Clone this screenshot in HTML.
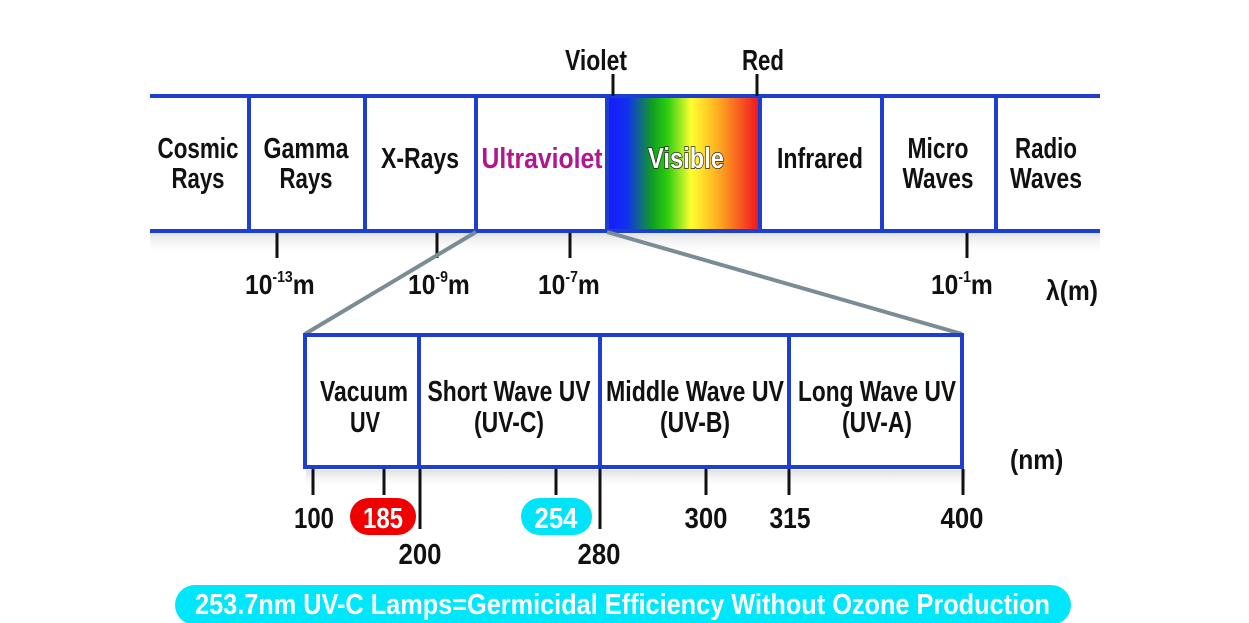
<!DOCTYPE html>
<html><head><meta charset="utf-8"><style>
html,body{margin:0;padding:0;background:#fff;width:1249px;height:623px;overflow:hidden}
svg text{font-family:"Liberation Sans Narrow","Liberation Sans",sans-serif;font-weight:bold;fill:#111}
</style></head><body>
<svg width="1249" height="623" viewBox="0 0 1249 623" xmlns="http://www.w3.org/2000/svg">
<defs>
<linearGradient id="vis" x1="0" x2="1" y1="0" y2="0">
<stop offset="0" stop-color="#1a1aff"/><stop offset="0.13" stop-color="#1030f0"/>
<stop offset="0.3" stop-color="#10a020"/><stop offset="0.4" stop-color="#30d010"/>
<stop offset="0.55" stop-color="#ffff30"/><stop offset="0.72" stop-color="#ffb020"/>
<stop offset="1" stop-color="#f01020"/></linearGradient>
<linearGradient id="sh" x1="0" x2="0" y1="0" y2="1"><stop offset="0" stop-color="#ccc"/><stop offset="1" stop-color="#fff" stop-opacity="0"/></linearGradient>
</defs>
<rect x="150" y="233" width="950" height="22" fill="url(#sh)" opacity="0.6"/>
<rect x="306" y="470" width="660" height="20" fill="url(#sh)" opacity="0.6"/>
<rect x="607" y="98" width="153" height="131" fill="url(#vis)"/>
<g stroke="#1c3fd0" stroke-width="4">
<line x1="150" y1="96" x2="1100" y2="96"/><line x1="150" y1="231" x2="1100" y2="231"/>
<line x1="249" y1="96" x2="249" y2="231"/><line x1="365" y1="96" x2="365" y2="231"/>
<line x1="476" y1="96" x2="476" y2="231"/><line x1="607" y1="96" x2="607" y2="231"/>
<line x1="760" y1="96" x2="760" y2="231"/><line x1="882" y1="96" x2="882" y2="231"/>
<line x1="996" y1="96" x2="996" y2="231"/>
</g>
<g stroke="#111" stroke-width="3">
<line x1="277" y1="233" x2="277" y2="258"/><line x1="437" y1="233" x2="437" y2="258"/>
<line x1="570" y1="233" x2="570" y2="258"/><line x1="967" y1="233" x2="967" y2="258"/>
<line x1="613" y1="74" x2="613" y2="96"/><line x1="757" y1="74" x2="757" y2="96"/>
</g>
<g stroke="#7a8c96" stroke-width="4">
<line x1="476" y1="232" x2="305" y2="334"/><line x1="607" y1="232" x2="962" y2="334"/>
</g>
<g font-size="29" text-anchor="middle">
<text x="596" y="70" textLength="62" lengthAdjust="spacingAndGlyphs">Violet</text>
<text x="763" y="70" textLength="42" lengthAdjust="spacingAndGlyphs">Red</text>
<text x="198" y="158" textLength="81" lengthAdjust="spacingAndGlyphs">Cosmic</text>
<text x="198" y="188" textLength="53" lengthAdjust="spacingAndGlyphs">Rays</text>
<text x="306" y="158" textLength="85" lengthAdjust="spacingAndGlyphs">Gamma</text>
<text x="306" y="188" textLength="53" lengthAdjust="spacingAndGlyphs">Rays</text>
<text x="420" y="168" textLength="78" lengthAdjust="spacingAndGlyphs">X-Rays</text>
<text x="542" y="168" textLength="121" lengthAdjust="spacingAndGlyphs" style="fill:#b0178f">Ultraviolet</text>
<text x="686" y="168" textLength="76" lengthAdjust="spacingAndGlyphs" style="fill:#fff;stroke:#222;stroke-width:1.5;paint-order:stroke">Visible</text>
<text x="820" y="168" textLength="86" lengthAdjust="spacingAndGlyphs">Infrared</text>
<text x="938" y="158" textLength="61" lengthAdjust="spacingAndGlyphs">Micro</text>
<text x="938" y="188" textLength="71" lengthAdjust="spacingAndGlyphs">Waves</text>
<text x="1046" y="158" textLength="62" lengthAdjust="spacingAndGlyphs">Radio</text>
<text x="1046" y="188" textLength="72" lengthAdjust="spacingAndGlyphs">Waves</text>
</g>
<g font-size="28">
<text x="245" y="294" transform="translate(245 0) scale(0.88 1) translate(-245 0)">10<tspan font-size="16" dy="-12">-13</tspan><tspan dy="12">m</tspan></text>
<text x="408" y="294" transform="translate(408 0) scale(0.88 1) translate(-408 0)">10<tspan font-size="16" dy="-12">-9</tspan><tspan dy="12">m</tspan></text>
<text x="538" y="294" transform="translate(538 0) scale(0.88 1) translate(-538 0)">10<tspan font-size="16" dy="-12">-7</tspan><tspan dy="12">m</tspan></text>
<text x="931" y="294" transform="translate(931 0) scale(0.88 1) translate(-931 0)">10<tspan font-size="16" dy="-12">-1</tspan><tspan dy="12">m</tspan></text>
<text x="1046" y="300" transform="translate(1046 0) scale(0.88 1) translate(-1046 0)">λ(m)</text>
<text x="1010" y="469" transform="translate(1010 0) scale(0.88 1) translate(-1010 0)">(nm)</text>
</g>
<g stroke="#1c3fd0" stroke-width="4" fill="none">
<rect x="305" y="335" width="657" height="132"/>
<line x1="419" y1="335" x2="419" y2="467"/><line x1="600" y1="335" x2="600" y2="467"/>
<line x1="789" y1="335" x2="789" y2="467"/>
</g>
<g stroke="#111" stroke-width="3">
<line x1="313" y1="469" x2="313" y2="495"/><line x1="384" y1="469" x2="384" y2="495"/>
<line x1="420" y1="469" x2="420" y2="529"/><line x1="556" y1="469" x2="556" y2="495"/>
<line x1="600" y1="469" x2="600" y2="529"/><line x1="706" y1="469" x2="706" y2="495"/>
<line x1="789" y1="469" x2="789" y2="495"/><line x1="963" y1="469" x2="963" y2="495"/>
</g>
<g font-size="29" text-anchor="middle">
<text x="364" y="401" textLength="88" lengthAdjust="spacingAndGlyphs">Vacuum</text>
<text x="365" y="432" textLength="30" lengthAdjust="spacingAndGlyphs">UV</text>
<text x="509" y="401" textLength="163" lengthAdjust="spacingAndGlyphs">Short Wave UV</text>
<text x="509" y="432" textLength="70" lengthAdjust="spacingAndGlyphs">(UV-C)</text>
<text x="695" y="401" textLength="178" lengthAdjust="spacingAndGlyphs">Middle Wave UV</text>
<text x="695" y="432" textLength="70" lengthAdjust="spacingAndGlyphs">(UV-B)</text>
<text x="877" y="401" textLength="158" lengthAdjust="spacingAndGlyphs">Long Wave UV</text>
<text x="877" y="432" textLength="70" lengthAdjust="spacingAndGlyphs">(UV-A)</text>
<text x="314" y="528" textLength="40" lengthAdjust="spacingAndGlyphs">100</text>
<text x="420" y="564" textLength="43" lengthAdjust="spacingAndGlyphs">200</text>
<text x="599" y="564" textLength="43" lengthAdjust="spacingAndGlyphs">280</text>
<text x="706" y="528" textLength="43" lengthAdjust="spacingAndGlyphs">300</text>
<text x="790" y="528" textLength="41" lengthAdjust="spacingAndGlyphs">315</text>
<text x="962" y="528" textLength="43" lengthAdjust="spacingAndGlyphs">400</text>
</g>
<rect x="350" y="498" width="66" height="37" rx="18.5" fill="#f00000"/>
<rect x="521" y="498" width="71" height="37" rx="18.5" fill="#00e4f8"/>
<g font-size="29" text-anchor="middle">
<text x="383" y="528" textLength="40" lengthAdjust="spacingAndGlyphs" style="fill:#fff">185</text>
<text x="556" y="528" textLength="43" lengthAdjust="spacingAndGlyphs" style="fill:#fff">254</text>
</g>
<rect x="175" y="585" width="896" height="40" rx="20" fill="#00e6fa"/>
<text x="195" y="614" font-size="29" textLength="855" lengthAdjust="spacingAndGlyphs" style="fill:#fff">253.7nm UV-C Lamps=Germicidal Efficiency Without Ozone Production</text>
</svg>
</body></html>
